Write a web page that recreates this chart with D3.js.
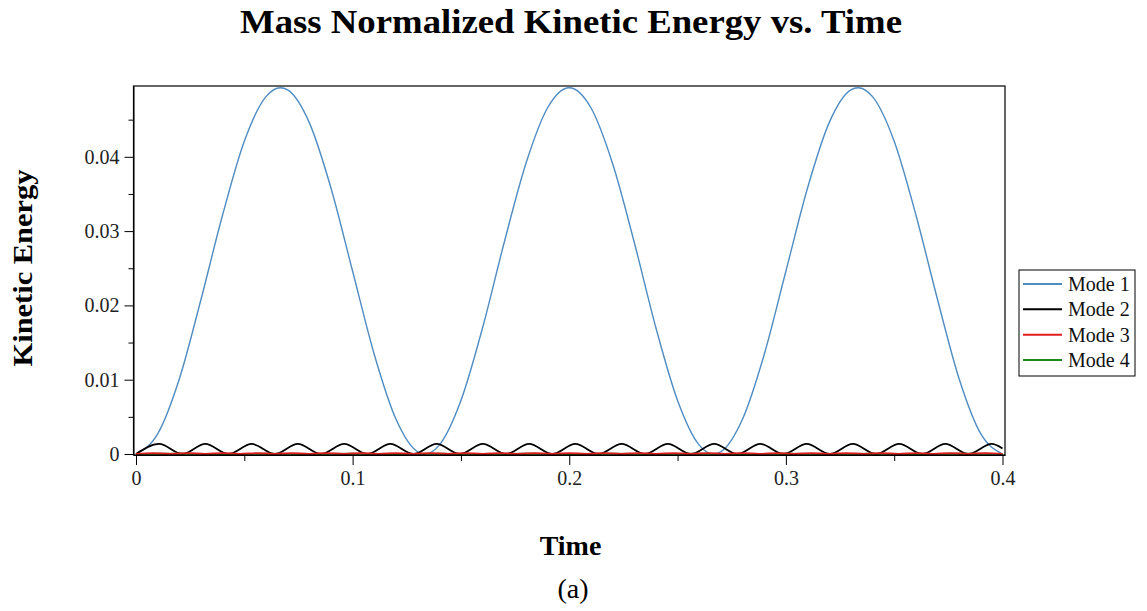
<!DOCTYPE html>
<html>
<head>
<meta charset="utf-8">
<script src="https://cdn.jsdelivr.net/npm/d3@7"></script>
<style>
  html, body { margin: 0; padding: 0; background: #fff; }
  svg { display: block; }
  text { font-family: "Liberation Serif", "Times New Roman", serif; }
</style>
</head>
<body>
<svg id="chart" width="1147" height="611"></svg>
<script>
// ---- data ----
const chartTitle = "Mass Normalized Kinetic Energy vs. Time";
const xLabel = "Time";
const yLabel = "Kinetic Energy";
const subLabel = "(a)";
const seriesNames = ["Mode 1", "Mode 2", "Mode 3", "Mode 4"];
const seriesColors = ["#4f8cc2", "#000000", "#e01e1e", "#1a8a1a"];

const xTicks = [0, 0.1, 0.2, 0.3, 0.4];
const xTickLabels = ["0", "0.1", "0.2", "0.3", "0.4"];
const xMinorTicks = [0.05, 0.15, 0.25, 0.35];
const yTicks = [0, 0.01, 0.02, 0.03, 0.04];
const yTickLabels = ["0", "0.01", "0.02", "0.03", "0.04"];
const yMinorTicks = [0.005, 0.015, 0.025, 0.035, 0.045];

const mode1Time = [0, 0.01, 0.02, 0.03, 0.04, 0.05, 0.06, 0.0667, 0.07, 0.08, 0.09, 0.10, 0.11, 0.12, 0.13, 0.1333,
  0.14, 0.15, 0.16, 0.17, 0.18, 0.19, 0.20, 0.21, 0.22, 0.23, 0.24, 0.25, 0.26, 0.2667,
  0.27, 0.28, 0.29, 0.30, 0.31, 0.32, 0.33, 0.3333, 0.34, 0.35, 0.36, 0.37, 0.38, 0.39, 0.40];
const mode1Value = [0, 0.0027, 0.0101, 0.0208, 0.0322, 0.0421, 0.0481, 0.0493, 0.0490, 0.0446, 0.0358, 0.0246, 0.0134, 0.0047, 0.0003, 0,
  0.0012, 0.0072, 0.0170, 0.0285, 0.0391, 0.0466, 0.0493, 0.0466, 0.0391, 0.0285, 0.0170, 0.0072, 0.0012, 0,
  0.0003, 0.0047, 0.0134, 0.0246, 0.0358, 0.0446, 0.0490, 0.0493, 0.0481, 0.0421, 0.0322, 0.0208, 0.0101, 0.0027, 0];

const mode2Time = [0, 0.0107, 0.0214, 0.0320, 0.0427, 0.0534, 0.0641, 0.0747, 0.0854, 0.0961, 0.1068, 0.1174, 0.1281,
  0.1388, 0.1495, 0.1601, 0.1708, 0.1815, 0.1922, 0.2028, 0.2135, 0.2242, 0.2349, 0.2455, 0.2562, 0.2669, 0.2776,
  0.2882, 0.2989, 0.3096, 0.3203, 0.3309, 0.3416, 0.3523, 0.3630, 0.3736, 0.3843, 0.3950, 0.40];
const mode2Value = [0, 0.00135, 0, 0.00135, 0, 0.00135, 0, 0.00135, 0, 0.00135, 0, 0.00135, 0,
  0.00135, 0, 0.00135, 0, 0.00135, 0, 0.00135, 0, 0.00135, 0, 0.00135, 0, 0.00135, 0,
  0.00135, 0, 0.00135, 0, 0.00135, 0, 0.00135, 0, 0.00135, 0, 0.00135, 0.00075];

const mode3Time = [0, 0.008, 0.016, 0.024, 0.032, 0.040, 0.048, 0.056, 0.064, 0.072, 0.080, 0.088, 0.096, 0.104,
  0.112, 0.120, 0.128, 0.136, 0.144, 0.152, 0.160, 0.168, 0.176, 0.184, 0.192, 0.200, 0.208, 0.216, 0.224,
  0.232, 0.240, 0.248, 0.256, 0.264, 0.272, 0.280, 0.288, 0.296, 0.304, 0.312, 0.320, 0.328, 0.336, 0.344,
  0.352, 0.360, 0.368, 0.376, 0.384, 0.392, 0.400];
const mode3Value = [0, 0.00013, 0, 0.00013, 0, 0.00013, 0, 0.00013, 0, 0.00013, 0, 0.00013, 0, 0.00013,
  0, 0.00013, 0, 0.00013, 0, 0.00013, 0, 0.00013, 0, 0.00013, 0, 0.00013, 0, 0.00013, 0,
  0.00013, 0, 0.00013, 0, 0.00013, 0, 0.00013, 0, 0.00013, 0, 0.00013, 0, 0.00013, 0, 0.00013,
  0, 0.00013, 0, 0.00013, 0, 0.00013, 0];

const mode4Time = [0, 0.02, 0.04, 0.06, 0.08, 0.10, 0.12, 0.14, 0.16, 0.18, 0.20, 0.22, 0.24, 0.26, 0.28, 0.30,
  0.32, 0.34, 0.36, 0.38, 0.40];
const mode4Value = [0, 0.00003, 0, 0.00003, 0, 0.00003, 0, 0.00003, 0, 0.00003, 0, 0.00003, 0, 0.00003, 0, 0.00003,
  0, 0.00003, 0, 0.00003, 0];

const seriesTimes = [mode1Time, mode2Time, mode3Time, mode4Time];
const seriesValues = [mode1Value, mode2Value, mode3Value, mode4Value];

// ---- layout ----
const svg = d3.select("#chart");
const plot = { left: 133.5, right: 1005, top: 86, bottom: 455 };

const x = d3.scaleLinear().domain([-0.00115, 0.40115]).range([plot.left, plot.right]);
const y = d3.scaleLinear().domain([-0.000135, 0.04953]).range([plot.bottom, plot.top]);

// title
svg.append("text")
  .attr("x", 571).attr("y", 33)
  .attr("text-anchor", "middle")
  .attr("font-size", 33).attr("font-weight", "bold")
  .attr("textLength", 662).attr("lengthAdjust", "spacingAndGlyphs")
  .attr("fill", "#000")
  .text(chartTitle);

// series
const line = d3.line()
  .x(d => x(d[0]))
  .y(d => y(d[1]))
  .curve(d3.curveMonotoneX);

const drawOrder = [0, 1, 3, 2];
drawOrder.forEach(i => {
  const pts = seriesTimes[i].map((t, j) => [t, seriesValues[i][j]]);
  svg.append("path")
    .datum(pts)
    .attr("d", line)
    .attr("fill", "none")
    .attr("stroke", seriesColors[i])
    .attr("stroke-width", i === 0 ? 1.4 : 1.8)
    .attr("stroke-linejoin", "round");
});

// frame
svg.append("rect")
  .attr("x", plot.left).attr("y", plot.top)
  .attr("width", plot.right - plot.left).attr("height", plot.bottom - plot.top)
  .attr("fill", "none").attr("stroke", "#000").attr("stroke-width", 1.2);

// x axis
const xAxisG = svg.append("g").attr("transform", `translate(0,${plot.bottom})`)
  .call(d3.axisBottom(x).tickValues(xTicks).tickFormat((d, i) => xTickLabels[i]).tickSize(10).tickSizeOuter(0));
xAxisG.select(".domain").attr("stroke", "#000");
xAxisG.selectAll(".tick line").attr("stroke", "#000");
xAxisG.selectAll(".tick text")
  .attr("font-family", "Liberation Serif, Times New Roman, serif")
  .attr("font-size", 20).attr("fill", "#222").attr("dy", "1.05em").attr("y", 9);
svg.append("g").attr("transform", `translate(0,${plot.bottom})`)
  .call(d3.axisBottom(x).tickValues(xMinorTicks).tickFormat("").tickSize(6).tickSizeOuter(0))
  .call(g => g.select(".domain").remove())
  .selectAll(".tick line").attr("stroke", "#000");

// y axis
const yAxisG = svg.append("g").attr("transform", `translate(${plot.left},0)`)
  .call(d3.axisLeft(y).tickValues(yTicks).tickFormat((d, i) => yTickLabels[i]).tickSize(9).tickSizeOuter(0));
yAxisG.select(".domain").attr("stroke", "#000");
yAxisG.selectAll(".tick line").attr("stroke", "#000");
yAxisG.selectAll(".tick text")
  .attr("font-family", "Liberation Serif, Times New Roman, serif")
  .attr("font-size", 20).attr("fill", "#222").attr("x", -14);
svg.append("g").attr("transform", `translate(${plot.left},0)`)
  .call(d3.axisLeft(y).tickValues(yMinorTicks).tickFormat("").tickSize(5).tickSizeOuter(0))
  .call(g => g.select(".domain").remove())
  .selectAll(".tick line").attr("stroke", "#000");

// axis labels
svg.append("text")
  .attr("transform", "translate(32,268) rotate(-90)")
  .attr("text-anchor", "middle")
  .attr("font-size", 27).attr("font-weight", "bold")
  .attr("textLength", 197).attr("lengthAdjust", "spacingAndGlyphs")
  .text(yLabel);

svg.append("text")
  .attr("x", 570.5).attr("y", 555)
  .attr("text-anchor", "middle")
  .attr("font-size", 28).attr("font-weight", "bold")
  .text(xLabel);

svg.append("text")
  .attr("x", 573).attr("y", 598)
  .attr("text-anchor", "middle")
  .attr("font-size", 28)
  .text(subLabel);

// legend
const legend = svg.append("g");
legend.append("rect")
  .attr("x", 1019).attr("y", 270).attr("width", 116).attr("height", 106)
  .attr("fill", "#fff").attr("stroke", "#000").attr("stroke-width", 1);
const rowY = d3.scalePoint().domain(seriesNames).range([284, 360]);
seriesNames.forEach((name, i) => {
  legend.append("line")
    .attr("x1", 1023).attr("x2", 1062)
    .attr("y1", rowY(name)).attr("y2", rowY(name))
    .attr("stroke", seriesColors[i]).attr("stroke-width", 2);
  legend.append("text")
    .attr("x", 1068).attr("y", rowY(name))
    .attr("dy", "0.35em")
    .attr("font-size", 20).attr("fill", "#111")
    .text(name);
});
</script>
</body>
</html>
